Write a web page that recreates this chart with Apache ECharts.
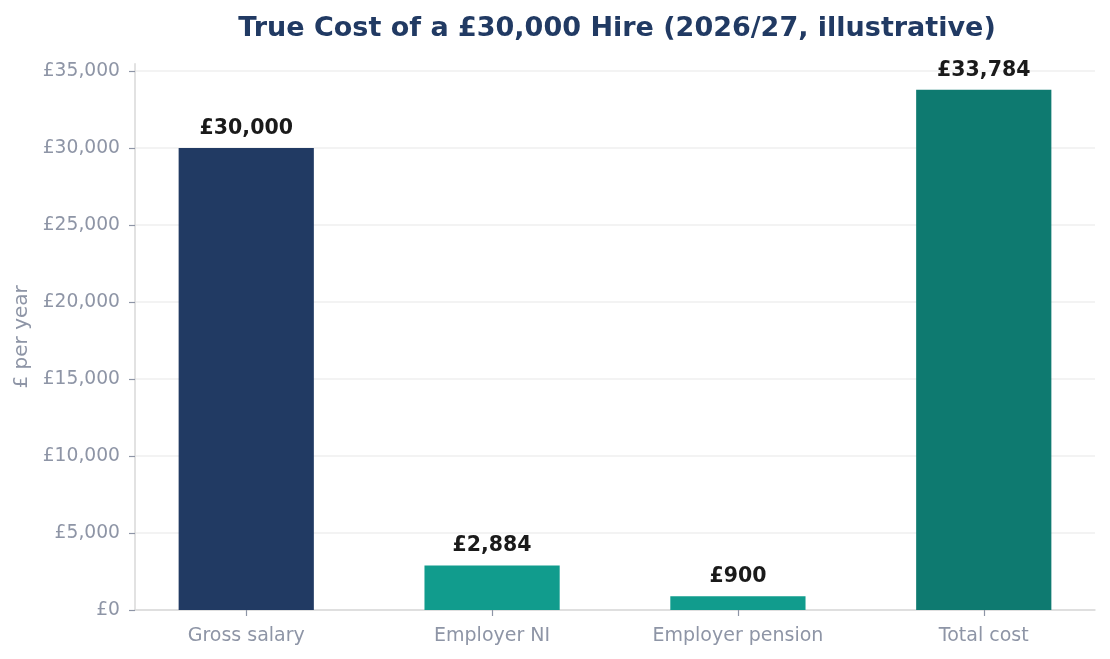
<!DOCTYPE html>
<html>
<head>
<meta charset="utf-8">
<script src="https://cdn.jsdelivr.net/npm/echarts@6/dist/echarts.min.js"></script>
<style>html,body{margin:0;padding:0;background:#fff;}#c{width:1110px;height:659px;}</style>
</head>
<body>
<div id="c"></div>
<script>
const categories = ['Gross salary', 'Employer NI', 'Employer pension', 'Total cost'];
const values = [30000, 2884, 900, 33784];
const barColors = ['#213a63', '#119c8d', '#119c8d', '#0e7a70'];
const yTicks = [0, 5000, 10000, 15000, 20000, 25000, 30000, 35000];

const fmt = v => '£' + Math.round(v).toLocaleString('en-GB');
const barFrac = 0.55;
const xLo = -barFrac / 2, xHi = categories.length - 1 + barFrac / 2;
const xPad = (xHi - xLo) * 0.05;
const yMax = Math.max(...values) * 1.05;

const chart = echarts.init(document.getElementById('c'));
chart.setOption({
  animation: false,
  backgroundColor: '#ffffff',
  textStyle: { fontFamily: 'DejaVu Sans' },
  title: {
    text: 'True Cost of a £30,000 Hire (2026/27, illustrative)',
    left: 612, textAlign: 'center', top: 10,
    textStyle: { fontFamily: 'DejaVu Sans', fontSize: 27, fontWeight: 'bold', color: '#213a63' }
  },
  grid: { left: 135, right: 15, top: 610 - yMax / 5000 * 77, bottom: 49 },
  xAxis: {
    type: 'value', min: xLo - xPad, max: xHi + xPad,
    splitLine: { show: false },
    axisLine: { show: true, onZero: false, lineStyle: { color: '#d9d9d9', width: 1.5 } },
    axisTick: { show: true, customValues: categories.map((_, i) => i), length: 6, lineStyle: { color: '#8e95a6', width: 1.2 } },
    axisLabel: { customValues: categories.map((_, i) => i), formatter: v => categories[Math.round(v)] || '',
      color: '#8e95a6', fontSize: 19, margin: 17, fontFamily: 'DejaVu Sans' }
  },
  yAxis: {
    type: 'value', min: 0, max: yMax, interval: 5000,
    name: '£ per year', nameLocation: 'middle', nameGap: 98, nameRotate: 90,
    nameTextStyle: { color: '#8e95a6', fontSize: 20, fontFamily: 'DejaVu Sans' },
    axisLine: { show: true, onZero: false, lineStyle: { color: '#d9d9d9', width: 1.5 } },
    axisTick: { show: true, length: 6, lineStyle: { color: '#8e95a6', width: 1.2 } },
    splitLine: { show: true, showMaxLine: false, lineStyle: { color: '#efefef', width: 1.5 } },
    axisLabel: { color: '#8e95a6', fontSize: 18.7, margin: 15, showMaxLabel: false, fontFamily: 'DejaVu Sans',
      padding: [3, 0, 0, 0],
      formatter: v => yTicks.includes(v) ? fmt(v) : '' }
  },
  series: [{
    type: 'bar',
    barWidth: (barFrac * 100) + '%',
    data: values.map((v, i) => ({ value: [i, v], itemStyle: { color: barColors[i] } })),
    label: {
      show: true, position: 'top', distance: 9,
      formatter: p => fmt(p.value[1]),
      color: '#1a1a1a', fontSize: 20.5, fontWeight: 'bold', fontFamily: 'DejaVu Sans'
    }
  }]
});
</script>
</body>
</html>
